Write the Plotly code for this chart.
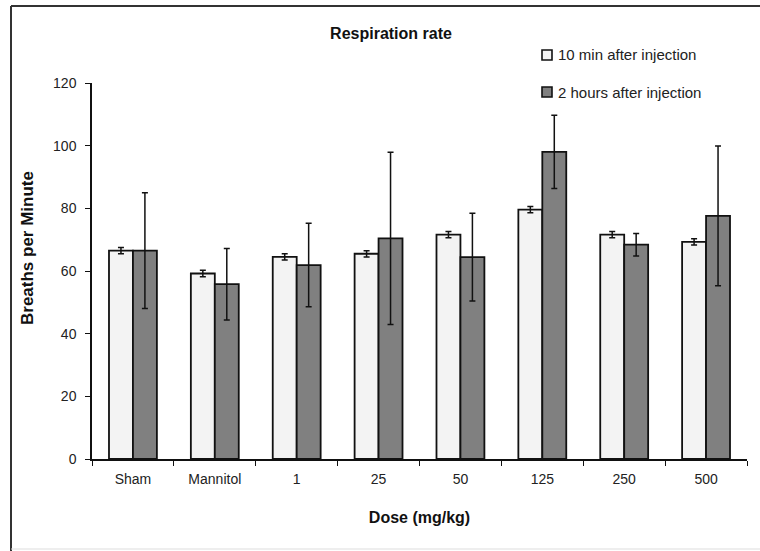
import plotly.graph_objects as go

categories = ["Sham", "Mannitol", "1", "25", "50", "125", "250", "500"]
min10_values = [66.5, 59.2, 64.5, 65.5, 71.6, 79.6, 71.6, 69.3]
min10_errors = [1.0, 1.0, 1.0, 1.0, 1.0, 1.0, 1.0, 1.0]
hr2_values = [66.5, 55.8, 61.9, 70.4, 64.4, 98.0, 68.4, 77.6]
hr2_errors = [18.5, 11.4, 13.3, 27.5, 14.0, 11.7, 3.6, 22.3]
y_ticks = [0, 20, 40, 60, 80, 100, 120]
series_names = ["10 min after injection", "2 hours after injection"]
series_colors = ["#f3f3f3", "#808080"]

# plot-area geometry in pixels (for converting pixel positions to paper coords)
L, R, T, B = 92, 747, 83, 459
W, H = R - L, B - T
def px(x):
    return (x - L) / W
def py(y):
    return (B - y) / H

fig = go.Figure()
fig.add_trace(go.Bar(
    x=categories, y=min10_values, name=series_names[0],
    marker=dict(color=series_colors[0], line=dict(color="#111111", width=1.8)),
    error_y=dict(type="data", array=min10_errors, color="#111111", thickness=1.5, width=3),
))
fig.add_trace(go.Bar(
    x=categories, y=hr2_values, name=series_names[1],
    marker=dict(color=series_colors[1], line=dict(color="#111111", width=1.8)),
    error_y=dict(type="data", array=hr2_errors, color="#111111", thickness=1.5, width=3),
))

font_family = "Liberation Sans, Arial, sans-serif"
fig.update_layout(
    width=760, height=551,
    margin=dict(l=L, r=760 - R, t=T, b=551 - B, autoexpand=False),
    paper_bgcolor="white", plot_bgcolor="white",
    barmode="group", bargap=0.415, bargroupgap=0,
    font=dict(family=font_family, color="#222222", size=14),
    title=dict(text="<b>Respiration rate</b>", x=391/760, xanchor="center",
               y=1 - 33/551, yanchor="middle", font=dict(size=16, color="#111111")),
    showlegend=False,
)
fig.update_xaxes(
    type="category", tickson="boundaries", ticks="outside", ticklen=5,
    tickcolor="#111111", showline=True, linecolor="#111111", linewidth=1.5,
    showgrid=False, ticklabelstandoff=6,
    title=dict(text="<b>Dose (mg/kg)</b>", font=dict(size=16, color="#111111"), standoff=26),
    tickfont=dict(size=14, color="#222222"),
)
fig.update_yaxes(
    range=[0, 120], tickvals=y_ticks, ticks="outside", ticklen=5,
    tickcolor="#111111", showline=True, linecolor="#111111", linewidth=1.5,
    showgrid=False, zeroline=False, ticklabelstandoff=6,
    tickfont=dict(size=14, color="#222222"),
)

# y-axis title placed as in the reference (slightly above plot centre)
fig.add_annotation(text="<b>Breaths per Minute</b>", xref="paper", yref="paper",
                   x=px(27), y=py(248), xanchor="center", yanchor="middle",
                   textangle=-90, showarrow=False,
                   font=dict(size=17, color="#111111"))

# manual legend
legend_y = [55, 92]
for name, color, yy in zip(series_names, series_colors, legend_y):
    fig.add_shape(type="rect", xref="paper", yref="paper",
                  x0=px(542), x1=px(552), y0=py(yy - 5), y1=py(yy + 5),
                  fillcolor=color, line=dict(color="#111111", width=1.6))
    fig.add_annotation(text=name, xref="paper", yref="paper", x=px(556), y=py(yy),
                       xanchor="left", yanchor="middle", showarrow=False,
                       font=dict(size=15, color="#222222"))

# outer frame: dark top and left edges, faint bottom edge
fig.add_shape(type="line", xref="paper", yref="paper",
              x0=px(11), x1=px(760), y0=py(6), y1=py(6),
              line=dict(color="#333333", width=2))
fig.add_shape(type="line", xref="paper", yref="paper",
              x0=px(11), x1=px(11), y0=py(6), y1=py(551),
              line=dict(color="#333333", width=2))
fig.add_shape(type="line", xref="paper", yref="paper",
              x0=px(11), x1=px(760), y0=py(549), y1=py(549),
              line=dict(color="#dddddd", width=1))

fig.write_html("out.html")
